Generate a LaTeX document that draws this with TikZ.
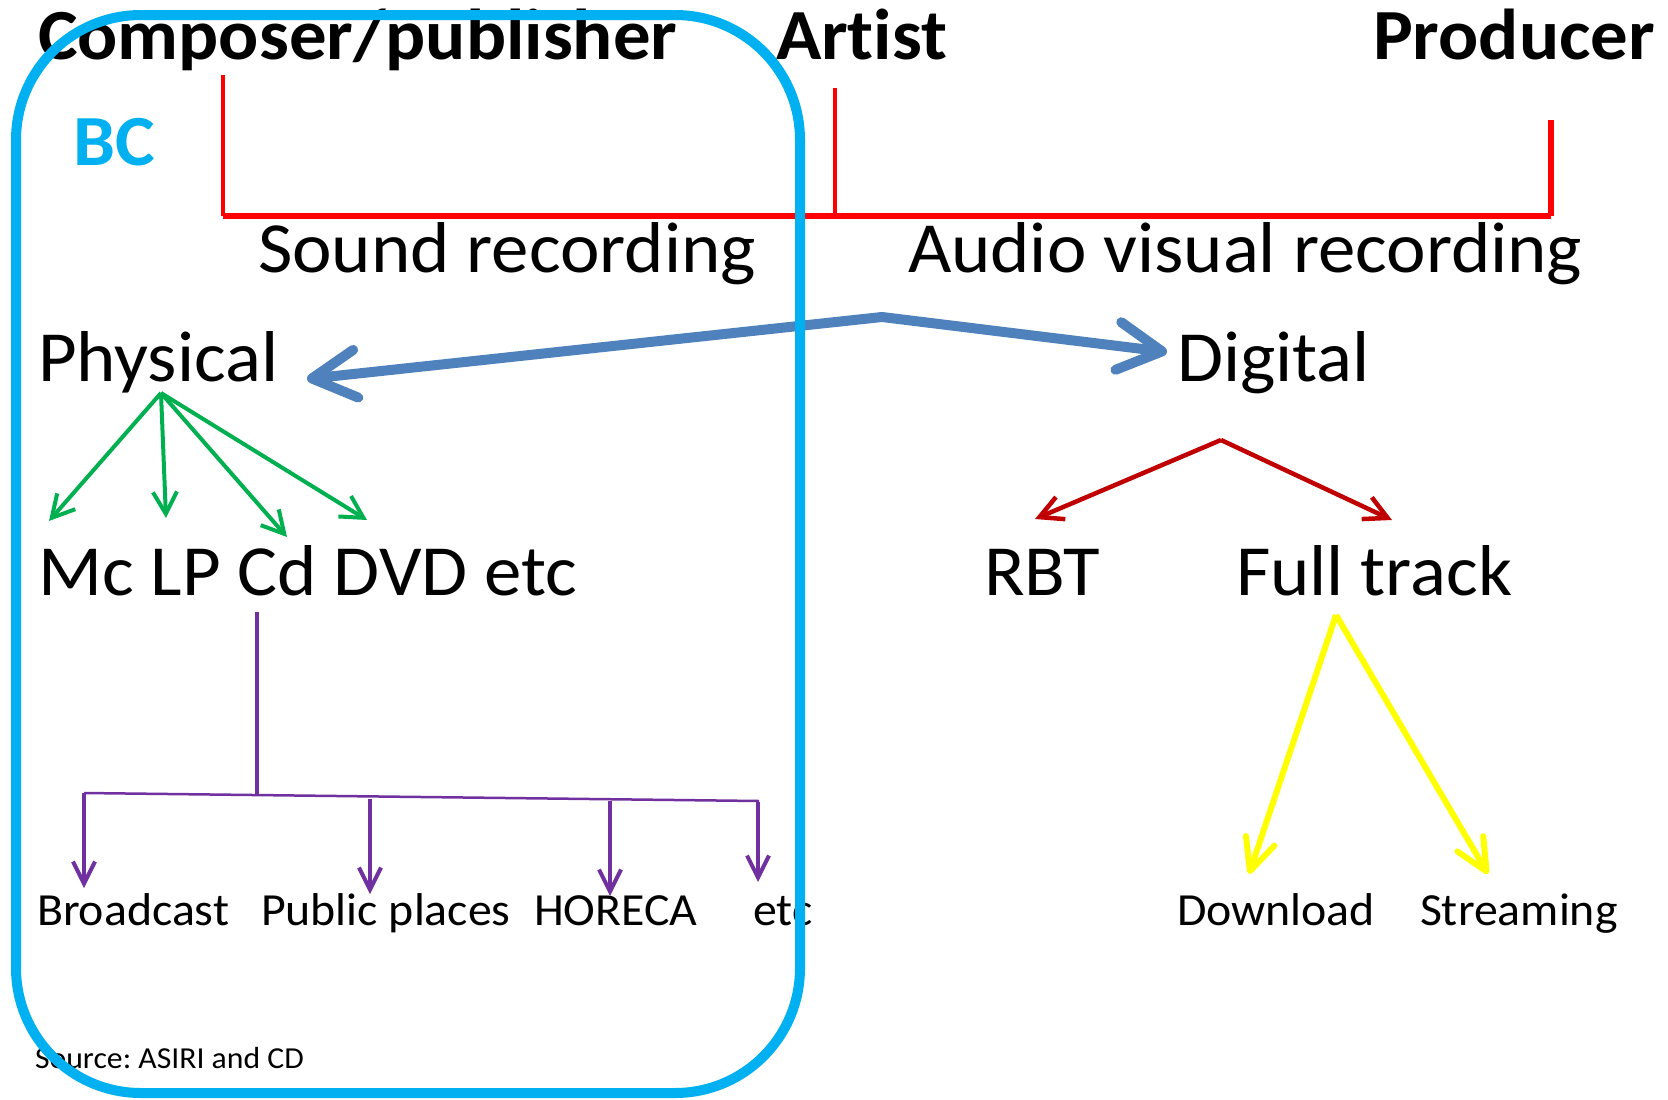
\documentclass[tikz,border=0pt]{standalone}
\usepackage{fontspec}
\setmainfont[FakeStretch=1.04, Ligatures={NoCommon}]{Carlito}
\frenchspacing
\usetikzlibrary{arrows.meta}
\definecolor{bccyan}{HTML}{00B0F0}
\definecolor{steelblue}{HTML}{4F81BD}
\definecolor{grn}{HTML}{00B050}
\definecolor{dred}{HTML}{C00000}
\definecolor{yel}{HTML}{FFFF00}
\definecolor{purp}{HTML}{7030A0}
\definecolor{brightred}{HTML}{FF0000}
\begin{document}
\begin{tikzpicture}[x=1pt,y=-1pt,
  txt/.style={anchor=base west, inner sep=0pt, outer sep=0pt},
  big/.style={txt, font=\fontsize{72}{86}\selectfont},
  head/.style={txt, font=\fontsize{72}{86}\selectfont\bfseries},
  small/.style={txt, font=\fontsize{46}{55}\selectfont},
  srcstyle/.style={txt, font=\fontsize{30.5}{37}\selectfont},
  redthin/.style={draw=brightred, line width=4pt},
  redthick/.style={draw=brightred, line width=6pt},
  bluearr/.style={draw=steelblue, line width=10pt, line cap=round, -{Straight Barb[length=44pt,width=48pt,round]}},
  greenarr/.style={draw=grn, line width=4pt, -{Straight Barb[length=22pt,width=24pt]}},
  redarr/.style={draw=dred, line width=4.5pt, -{Straight Barb[length=23pt,width=24pt]}},
  yelarr/.style={draw=yel, line width=6pt, -{Straight Barb[length=32pt,width=30pt,round]}},
  purparr/.style={draw=purp, line width=4pt, -{Straight Barb[length=22pt,width=22pt]}},
  purpline/.style={draw=purp, line width=4pt},
  purpbar/.style={draw=purp, line width=2.5pt},
  bcframe/.style={draw=bccyan, line width=10pt, rounded corners=125pt, inner sep=0pt, outer sep=0pt, anchor=north west}
]
\useasboundingbox (0,0) rectangle (1668,1100);

% texts
\node[head] (comp) at (38,59) {Composer/publisher};
\node[head] (artist) at (776,59) {Artist};
\node[head] (producer) at (1373,59) {Producer};
\node[head, text=bccyan] (bc) at (73,165) {BC};
\node[big] (sound) at (258,272) {Sound recording};
\node[big] (avr) at (908,272) {Audio visual recording};
\node[big] (physical) at (38,381) {Physical};
\node[big] (digital) at (1177,381) {Digital};
\node[big] (media) at (38,595) {Mc LP Cd DVD etc};
\node[big] (rbt) at (984,595) {RBT};
\node[big] (full) at (1236,595) {Full track};
\node[small] (broadcast) at (37,925) {Broadcast};
\node[small] (public) at (261,925) {Public places};
\node[small] (horeca) at (534,925) {HORECA};
\node[small] (etcb) at (753,925) {etc};
\node[small] (download) at (1177,925) {Download};
\node[small] (streaming) at (1420,925) {Streaming};
\node[srcstyle] (source) at (35,1068) {Source: ASIRI and CD};

% red bracket
\coordinate (cpTop) at (223,75);
\coordinate (cpBot) at (223,216);
\coordinate (arTop) at (835,88);
\coordinate (arBot) at (835,216);
\coordinate (prTop) at (1551,120);
\coordinate (prBot) at (1551,216);
\draw[redthin] (cpTop) -- (cpBot);
\draw[redthin] (arTop) -- (arBot);
\draw[redthick] (cpBot) -- (prBot);
\draw[redthick] (prBot) -- (prTop);

% blue arrows
\coordinate (bapex) at (882,317);
\coordinate (physTip) at (307,379);
\coordinate (digiTip) at (1167,352);
\draw[bluearr] (bapex) -- (physTip);
\draw[bluearr] (bapex) -- (digiTip);

% green arrows
\coordinate (gsrc) at (161,393);
\coordinate (g1) at (49,521);
\coordinate (g2) at (166,518);
\coordinate (g3) at (287,537);
\coordinate (g4) at (367,520);
\foreach \t in {g1,g2,g3,g4} \draw[greenarr] (gsrc) -- (\t);

% red arrows
\coordinate (rapex) at (1221,440);
\coordinate (r1) at (1035,519);
\coordinate (r2) at (1392,520);
\draw[redarr] (rapex) -- (r1);
\draw[redarr] (rapex) -- (r2);

% yellow arrows
\coordinate (yapex) at (1336,615);
\coordinate (y1) at (1249,874);
\coordinate (y2) at (1488,874);
\draw[yelarr] (yapex) -- (y1);
\draw[yelarr] (yapex) -- (y2);

% purple tree
\coordinate (cdTop) at (257,612);
\coordinate (cdBot) at (257,796);
\coordinate (barL) at (84,793);
\coordinate (barR) at (759,801);
\draw[purpline] (cdTop) -- (cdBot);
\draw[purpbar] (barL) -- (barR);
\coordinate (p1s) at (84,793);  \coordinate (p1e) at (84,888);
\coordinate (p2s) at (370,799); \coordinate (p2e) at (370,894);
\coordinate (p3s) at (610,801); \coordinate (p3e) at (610,896);
\coordinate (p4s) at (758,802); \coordinate (p4e) at (758,882);
\draw[purparr] (p1s) -- (p1e);
\draw[purparr] (p2s) -- (p2e);
\draw[purparr] (p3s) -- (p3e);
\draw[purparr] (p4s) -- (p4e);

% BC frame on top
\node[bcframe, minimum width=784pt, minimum height=1078pt] (bcbox) at (16,15) {};
\end{tikzpicture}
\end{document}
